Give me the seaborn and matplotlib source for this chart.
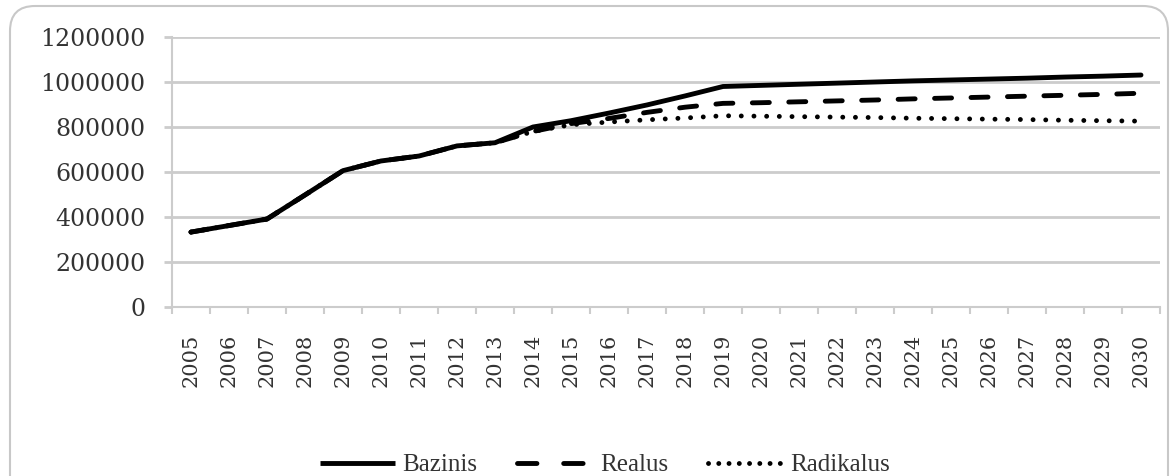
import numpy as np
import pandas as pd
import matplotlib
matplotlib.use("Agg")
import matplotlib.pyplot as plt
import seaborn as sns
from matplotlib.patches import FancyBboxPatch
from matplotlib.lines import Line2D


years = list(range(2005, 2031))

bazinis = [333000, 362000, 391000, 498000, 606000, 649000, 671000, 716000, 730000,
           800000, 828000, 862000, 898000, 938000, 980000, 985000, 990000, 995000,
           1000000, 1005000, 1009000, 1013000, 1017000, 1022000, 1026000, 1031000]

realus = [333000, 362000, 391000, 498000, 606000, 649000, 671000, 716000, 730000,
          780000, 815000, 838000, 865000, 888000, 905000, 908000, 912000, 916000,
          920000, 925000, 929000, 933000, 937000, 941000, 945000, 950000]

radikalus = [333000, 362000, 391000, 498000, 606000, 649000, 671000, 716000, 730000,
             780000, 810000, 822000, 832000, 840000, 850000, 848000, 846000, 844000,
             842000, 839000, 837000, 835000, 833000, 830000, 828000, 826000]

series_names = ["Bazinis", "Realus", "Radikalus"]
y_ticks = [0, 200000, 400000, 600000, 800000, 1000000, 1200000]

dash_styles = {"Bazinis": "", "Realus": (3.5, 4.0), "Radikalus": (0.01, 2.6)}
legend_dashes = {"Bazinis": "", "Realus": (4.0, 5.5), "Radikalus": (0.01, 2.1)}


df = pd.DataFrame({
    "year": years * 3,
    "value": bazinis + realus + radikalus,
    "scenario": np.repeat(series_names, len(years)),
})

sns.set_style("white")
plt.rcParams["font.family"] = ["DejaVu Serif"]

fig = plt.figure(figsize=(11.74, 4.76), dpi=100)
ax = fig.add_axes([172 / 1174, 1 - 307 / 476, (1160 - 172) / 1174, (307 - 37) / 476])

sns.lineplot(
    data=df, x="year", y="value",
    hue="scenario", style="scenario",
    hue_order=series_names, style_order=series_names,
    palette=["black"] * 3,
    dashes=dash_styles,
    linewidth=3.5, legend=False, ax=ax, sort=True,
)

lines = ax.get_lines()[:3]
# solid on top so the shared history reads as one line
lines[0].set_zorder(4)
for ln in lines:
    ln.set_dash_capstyle("round")
    ln.set_solid_capstyle("round")
    ln.set_solid_joinstyle("round")

# axes
ax.set_xlim(2004.5, 2030.5)
ax.set_ylim(0, 1200000)
ax.set_xticks(years)
ax.set_xticklabels([str(y) for y in years], rotation=90)
ax.set_xticks([y + 0.5 for y in [2004] + years], minor=True)
ax.set_yticks(y_ticks)
ax.set_yticklabels([str(v) for v in y_ticks])
ax.set_xlabel("")
ax.set_ylabel("")

grid_col = "#cccccc"
text_col = "#333333"
ax.yaxis.grid(True, color=grid_col, linewidth=2)
ax.xaxis.grid(False)
for side in ["top", "right"]:
    ax.spines[side].set_visible(False)
for side in ["left", "bottom"]:
    ax.spines[side].set_color(grid_col)
    ax.spines[side].set_linewidth(1.5)

ax.tick_params(axis="x", which="major", length=0, pad=19, labelsize=15, labelcolor=text_col)
ax.tick_params(axis="x", which="minor", length=5, width=1.5, color=grid_col, direction="out", bottom=True)
ax.tick_params(axis="y", which="major", length=6, width=2, color=grid_col, direction="out",
               pad=13, labelsize=17, labelcolor=text_col, left=True)

# legend along the bottom
handles = [Line2D([], [], color="black", linewidth=3.5, dash_capstyle="round",
                  solid_capstyle="butt",
                  linestyle=(0, legend_dashes[n]) if legend_dashes[n] else "-")
           for n in series_names]
leg = fig.legend(
    handles=handles, labels=series_names,
    loc="center", bbox_to_anchor=(605 / 1174, 1 - 465 / 476),
    ncol=3, frameon=False, handlelength=3.0, columnspacing=1.6, handletextpad=0.3,
    prop={"family": "Liberation Serif", "size": 18},
)
for t in leg.get_texts():
    t.set_color(text_col)

# rounded frame around the whole chart
frame = FancyBboxPatch((10, -60), 1158, 530, boxstyle="round,pad=0,rounding_size=25",
                       transform=None, facecolor="none", edgecolor="#c8c8c8",
                       linewidth=1.5, zorder=0)
fig.patches.append(frame)

fig.savefig("out.png", dpi=100)
